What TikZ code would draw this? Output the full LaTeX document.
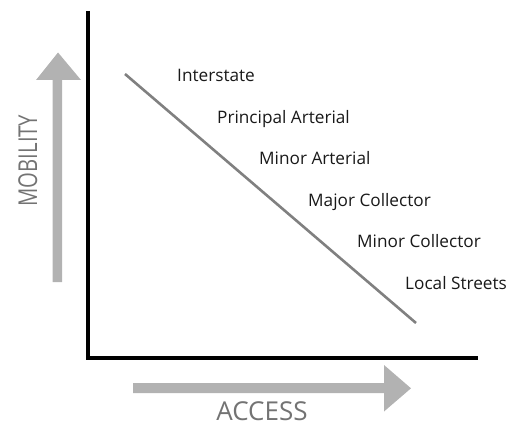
\documentclass[tikz,border=0pt]{standalone}
\usepackage{fontspec}
\setmainfont{Open Sans}
\begin{document}
\begin{tikzpicture}[x=1pt,y=-1pt,
  axisline/.style={line width=3.2pt,black},
  trendline/.style={line width=2.6pt,draw=black!50},
  bigarrow/.style={fill=black!30,draw=none},
  classlabel/.style={anchor=base west,inner sep=0pt,font=\fontsize{17.2}{19}\selectfont,text=black!90},
  axislabel/.style={anchor=base,inner sep=0pt,font=\fontsize{26}{28}\selectfont,text=black!55}]
\useasboundingbox (0,0) rectangle (521,425);

% axes
\coordinate (ytop) at (88,11);
\coordinate (origin) at (88,358);
\coordinate (xend) at (478,358);
\draw[axisline] (ytop) -- (origin) -- (xend);

% mobility arrow (pointing up)
\fill[bigarrow] (52.7,282) -- (52.7,80) -- (36,80) -- (58,52.5) -- (81,80)
  -- (62,80) -- (62,282) -- cycle;
% access arrow (pointing right)
\fill[bigarrow] (133,383) -- (384,383) -- (384,365) -- (411,388.3) -- (384,411.5)
  -- (384,393.2) -- (133,393.2) -- cycle;

% trade-off line
\coordinate (hi) at (125,74);
\coordinate (lo) at (416,323);
\draw[trendline] (hi) -- (lo);

% functional classes
\node[classlabel] (interstate) at (177,82)    {Interstate};
\node[classlabel] (principal)  at (217,123.4) {Principal Arterial};
\node[classlabel] (minorart)   at (259,164.8) {Minor Arterial};
\node[classlabel] (majorcol)   at (308,206.2) {Major Collector};
\node[classlabel] (minorcol)   at (357,247.6) {Minor Collector};
\node[classlabel] (local)      at (405,289)   {Local Streets};

% axis titles
\node[axislabel,rotate=90] (mobility) at (37,160.5) {\scalebox{0.78}[1]{MOBILITY}};
\node[axislabel] (access) at (262,420) {ACCESS};
\end{tikzpicture}
\end{document}
